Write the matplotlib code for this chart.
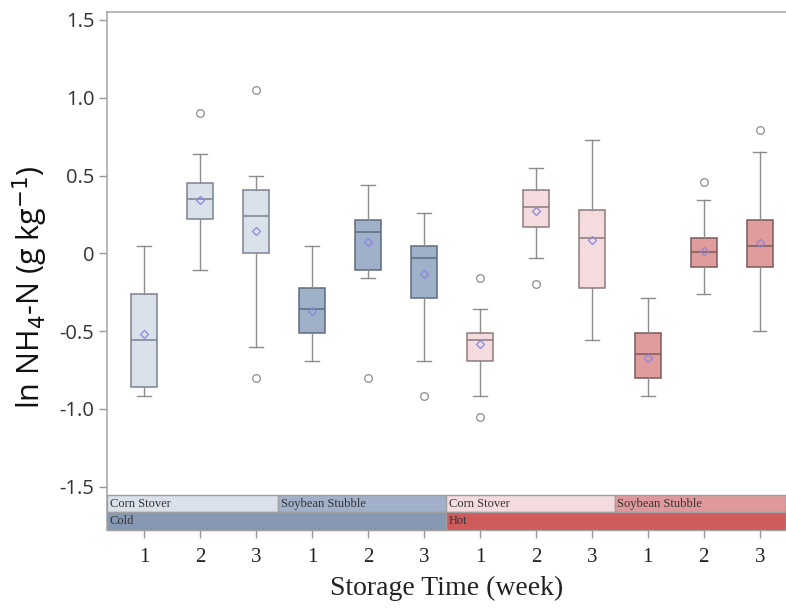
import matplotlib
matplotlib.use("Agg")
import matplotlib.pyplot as plt
from matplotlib.patches import Rectangle
import matplotlib.transforms as mtransforms

# ---- data ----
weeks = ["1", "2", "3"] * 4
positions = list(range(1, 13))
whislo = [-0.92, -0.11, -0.60, -0.69, -0.16, -0.69, -0.92, -0.03, -0.56, -0.92, -0.26, -0.50]
q1     = [-0.86,  0.22,  0.00, -0.51, -0.11, -0.29, -0.69,  0.17, -0.22, -0.80, -0.09, -0.09]
med    = [-0.555, 0.35,  0.24, -0.36,  0.14, -0.03, -0.555, 0.30,  0.10, -0.645, 0.006, 0.045]
q3     = [-0.26,  0.45,  0.405,-0.22,  0.215, 0.047,-0.51,  0.405, 0.28, -0.51,  0.096, 0.215]
whishi = [ 0.05,  0.64,  0.495, 0.05,  0.44,  0.26, -0.36,  0.55,  0.73, -0.29,  0.34,  0.65]
means  = [-0.52,  0.345, 0.145,-0.37,  0.07, -0.13, -0.585, 0.27,  0.085,-0.675, 0.013, 0.068]
fliers = [[], [0.90], [1.05, -0.80], [], [-0.80], [-0.92], [-0.16, -1.05], [-0.20], [], [], [0.46], [0.79]]

box_colors = ["#dbe1eb"] * 3 + ["#9fb0c9"] * 3 + ["#f3dbde"] * 3 + ["#e09b9d"] * 3
edge_colors = ["#7a8290"] * 3 + ["#5f6b7e"] * 3 + ["#8a7a7c"] * 3 + ["#7a5a5c"] * 3

source_labels = ["Corn Stover", "Soybean Stubble", "Corn Stover", "Soybean Stubble"]
source_bounds = [0.335, 3.39, 6.40, 9.405, 12.47]
source_colors = ["#dbe1eb", "#a1b1c9", "#f3dbde", "#e0999b"]
temp_labels = ["Cold", "Hot"]
temp_bounds = [0.335, 6.40, 12.47]
temp_colors = ["#8698b2", "#d05b5b"]

yticks = [1.5, 1.0, 0.5, 0, -0.5, -1.0, -1.5]
ytick_labels = ["1.5", "1.0", "0.5", "0", "-0.5", "-1.0", "-1.5"]

serif = "Liberation Serif"
sans = ["Open Sans", "DejaVu Sans"]

fig = plt.figure(figsize=(7.86, 6.08), dpi=100)
ax = fig.add_axes([107 / 786, 1 - 530 / 608, 1 - 107 / 786, (530 - 12) / 608])

stats = []
for i in range(12):
    stats.append(dict(whislo=whislo[i], q1=q1[i], med=med[i], q3=q3[i],
                      whishi=whishi[i], mean=means[i], fliers=fliers[i]))

for i in range(12):
    ax.bxp([stats[i]], positions=[positions[i]], widths=0.46, capwidths=0.24,
           showmeans=True, patch_artist=True,
           boxprops=dict(facecolor=box_colors[i], edgecolor=edge_colors[i], linewidth=1.1),
           medianprops=dict(color=edge_colors[i], linewidth=1.1),
           whiskerprops=dict(color="#8c8c8c", linewidth=1.0),
           capprops=dict(color="#8c8c8c", linewidth=1.0),
           meanprops=dict(marker="D", markerfacecolor="none", markeredgecolor="#8a86e0",
                          markersize=4.5, markeredgewidth=0.9),
           flierprops=dict(marker="o", markerfacecolor="none", markeredgecolor="#8c8c8c",
                           markersize=5.5, markeredgewidth=0.9))

ax.set_xlim(0.335, 12.47)
ax.set_ylim(-1.778, 1.551)

trans = mtransforms.blended_transform_factory(ax.transData, ax.transAxes)
row_top = (530 - 495) / 518
row_mid = (530 - 512.3) / 518
for k in range(4):
    x0, x1 = source_bounds[k], source_bounds[k + 1]
    ax.add_patch(Rectangle((x0, row_mid), x1 - x0, row_top - row_mid, transform=trans,
                           facecolor=source_colors[k], edgecolor="#a0a0a0", linewidth=1.0,
                           clip_on=False, zorder=3))
    ax.text(x0 + 0.05, (row_mid + row_top) / 2, source_labels[k], transform=trans,
            ha="left", va="center", fontsize=9, family=serif, color="#333333", zorder=4)
for k in range(2):
    x0, x1 = temp_bounds[k], temp_bounds[k + 1]
    ax.add_patch(Rectangle((x0, 0), x1 - x0, row_mid, transform=trans,
                           facecolor=temp_colors[k], edgecolor="#a0a0a0", linewidth=1.0,
                           clip_on=False, zorder=3))
    ax.text(x0 + 0.05, row_mid / 2, temp_labels[k], transform=trans,
            ha="left", va="center", fontsize=9, family=serif, color="#333333", zorder=4)

ax.set_xticks(positions)
ax.set_xticklabels(weeks, family=serif, fontsize=15, color="#222222")
ax.set_yticks(yticks)
ax.set_yticklabels(ytick_labels, family=sans, fontsize=14.5, color="#333333")
ax.tick_params(axis="both", direction="out", length=6, color="#999999", width=1)
ax.tick_params(axis="x", pad=7)
ax.tick_params(axis="y", pad=3)

for s in ["left", "top"]:
    ax.spines[s].set_color("#aaaaaa")
    ax.spines[s].set_linewidth(1.2)
ax.spines["right"].set_visible(False)
ax.spines["bottom"].set_color("#aaaaaa")

ax.set_xlabel("Storage Time (week)", family=serif, fontsize=20, color="#222222", labelpad=6)
ax.set_ylabel("ln NH$_4$-N (g kg$^{-1}$)", family=sans, fontsize=22, color="#111111")
ax.yaxis.set_label_coords(-(107 - 50) / 679, (530 - 287) / 518)

fig.savefig("out.png", dpi=100)
